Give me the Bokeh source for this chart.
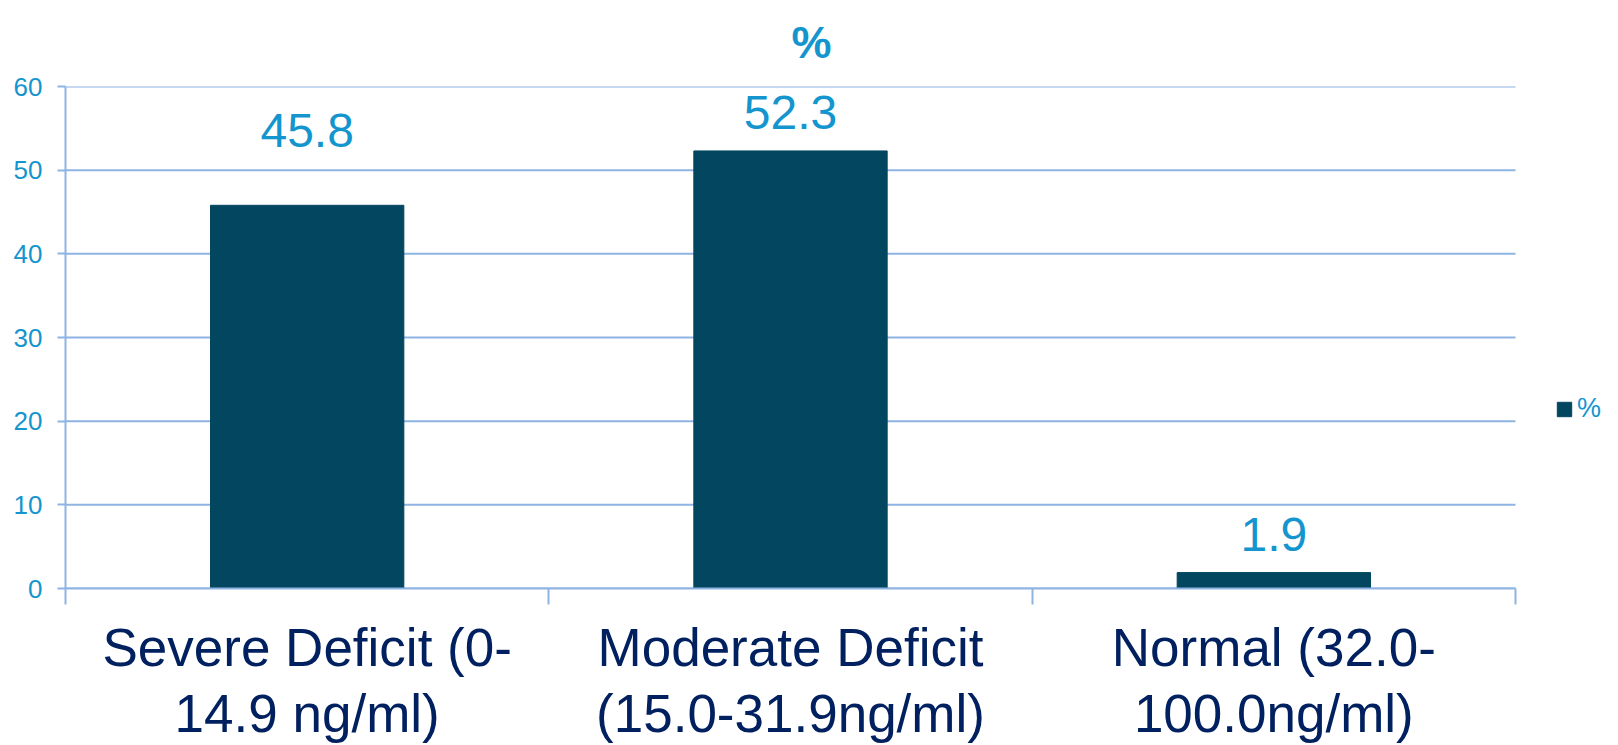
import numpy as np
from bokeh.plotting import figure
from bokeh.models import (ColumnDataSource, FixedTicker, Range1d, LabelSet, Legend, LegendItem, Title)
from bokeh.core.properties import value
from bokeh.embed import file_html
from bokeh.resources import INLINE

# ---- data ----
categories = ["Severe Deficit (0-\n14.9 ng/ml)",
              "Moderate Deficit\n(15.0-31.9ng/ml)",
              "Normal (32.0-\n100.0ng/ml)"]
values = [45.8, 52.3, 1.9]
value_labels = ["45.8", "52.3", "1.9"]
y_ticks = [0, 10, 20, 30, 40, 50, 60]
series_name = "%"

# ---- styles / layout ----
BAR = "#03465F"
BLUE = "#1495CE"
NAVY = "#002060"
GRID = "#8EB4E3"
FONT = "Liberation Sans"

W, H = 1618, 745
LEFT = 65          # frame left border
PLOT_W = 1450      # pixel width of the category area
n = len(categories)
x_end = n * (W - LEFT) / PLOT_W   # frame extends under the legend

xpos = [i + 0.5 for i in range(n)]
label_dy = [58, 22, 22]  # pixel offsets of the value labels above the bars

src = ColumnDataSource(dict(x=xpos, top=values, lab=value_labels, dy=label_dy))
grid_src = ColumnDataSource(dict(y=y_ticks, x0=[0] * len(y_ticks), x1=[n] * len(y_ticks)))

p = figure(width=W, height=H, output_backend="svg", toolbar_location=None,
           x_range=Range1d(0, x_end), y_range=Range1d(0, 60),
           min_border_left=LEFT, min_border_right=0, min_border_top=86, min_border_bottom=155)
p.outline_line_color = None
p.background_fill_color = "white"
p.border_fill_color = "white"
p.xgrid.grid_line_color = None
p.ygrid.grid_line_color = None

# horizontal grid lines over the category area only
p.segment(x0="x0", x1="x1", y0="y", y1="y", source=grid_src, line_color=GRID, line_width=2)

r = p.vbar(x="x", top="top", width=0.4, bottom=0, source=src,
           fill_color=BAR, line_color=BAR)

labels = LabelSet(x="x", y="top", text="lab", source=src, y_offset="dy",
                  text_align="center", text_baseline="alphabetic",
                  text_font=value(FONT), text_font_size=value("48px"), text_color=value(BLUE))
p.add_layout(labels)

# title
p.title = Title(text="%", align="left", offset=726, standoff=33, vertical_align="top",
                text_font=FONT, text_font_size="45px", text_font_style="bold",
                text_color=BLUE, text_line_height=1.0)

# x axis
xa = p.xaxis[0]
xa.bounds = (0, n)
xa.ticker = FixedTicker(ticks=xpos, minor_ticks=list(range(n + 1)))
xa.major_label_overrides = {x: c for x, c in zip(xpos, categories)}
xa.major_tick_out = 0
xa.major_tick_in = 0
xa.minor_tick_out = 16
xa.minor_tick_in = 0
xa.minor_tick_line_color = GRID
xa.minor_tick_line_width = 2
xa.axis_line_color = GRID
xa.axis_line_width = 2
xa.major_label_text_font = FONT
xa.major_label_text_font_size = "53px"
xa.major_label_text_line_height = 1.12
xa.major_label_text_color = NAVY
xa.major_label_standoff = 13

# y axis
ya = p.yaxis[0]
ya.ticker = FixedTicker(ticks=y_ticks)
ya.major_tick_out = 8
ya.major_tick_in = 0
ya.minor_tick_out = 0
ya.minor_tick_in = 0
ya.major_tick_line_color = GRID
ya.major_tick_line_width = 2
ya.axis_line_color = GRID
ya.axis_line_width = 2
ya.major_label_text_font = FONT
ya.major_label_text_font_size = "26px"
ya.major_label_text_color = BLUE
ya.major_label_standoff = 15

# legend (inside the extended frame, right of the category area)
legend = Legend(items=[LegendItem(label=series_name, renderers=[r])],
                location=(1490, 164), padding=0, margin=0, spacing=0,
                glyph_width=18, glyph_height=18, label_standoff=4,
                border_line_color=None, background_fill_alpha=0,
                label_text_font=FONT, label_text_font_size="27px",
                label_text_color=BLUE)
p.add_layout(legend, "center")

open("out.html", "w").write(file_html(p, INLINE))
